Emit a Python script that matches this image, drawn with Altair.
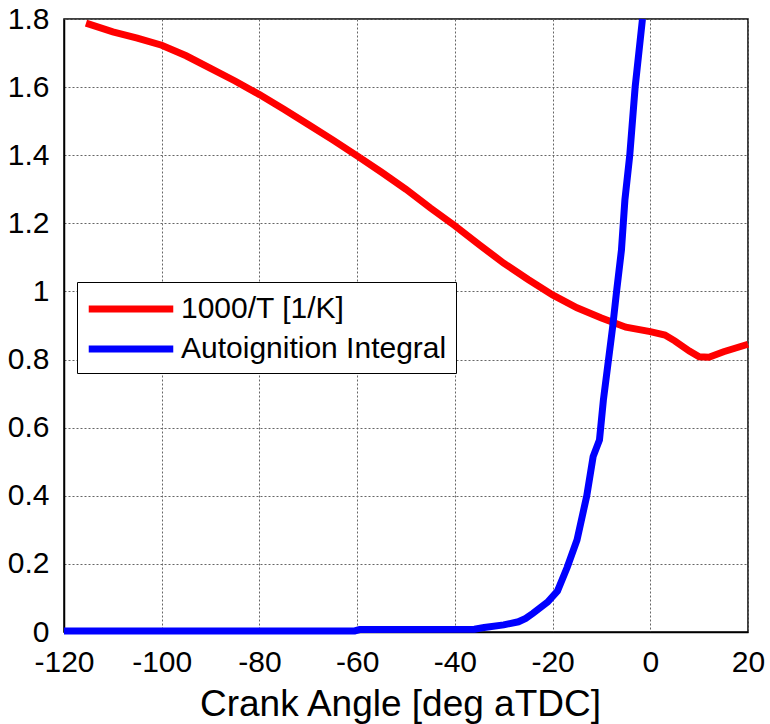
import altair as alt
import pandas as pd

# ---- data ----
red_x = [-115.5, -110, -105, -100, -95, -90, -85, -80, -75, -70, -65, -60, -55, -50,
         -45, -40, -35, -30, -25, -20, -15, -10, -5, 0, 3, 5, 8, 10, 12, 15, 20]
red_y = [1.788, 1.762, 1.744, 1.723, 1.692, 1.655, 1.618, 1.578, 1.535, 1.49, 1.445,
         1.398, 1.35, 1.30, 1.245, 1.193, 1.137, 1.083, 1.035, 0.99, 0.952, 0.922,
         0.895, 0.882, 0.872, 0.855, 0.825, 0.808, 0.807, 0.823, 0.845]

blue_x = [-120, -60.5, -59.5, -36, -34, -30, -27, -25.5, -24, -21, -19, -17, -15, -13,
          -11.7, -10.4, -9.6, -7.7, -6.9, -5.9, -5.2, -4.2, -3.1, -1.6]
blue_y = [0.003, 0.003, 0.007, 0.008, 0.013, 0.021, 0.03, 0.04, 0.055, 0.088, 0.12,
          0.19, 0.27, 0.40, 0.515, 0.564, 0.681, 0.896, 1.0, 1.122, 1.268, 1.4, 1.6, 1.8]

series_names = ["1000/T [1/K]", "Autoignition Integral"]
series_colors = ["#ff0000", "#0000ff"]

x_ticks = [-120, -100, -80, -60, -40, -20, 0, 20]
y_ticks = [0, 0.2, 0.4, 0.6, 0.8, 1, 1.2, 1.4, 1.6, 1.8]

df = pd.concat([
    pd.DataFrame({"x": red_x, "y": red_y, "s": series_names[0], "o": range(len(red_x))}),
    pd.DataFrame({"x": blue_x, "y": blue_y, "s": series_names[1], "o": range(len(blue_x))}),
])

FONT = "Liberation Sans"

chart = alt.Chart(df).mark_line(strokeWidth=7).encode(
    x=alt.X("x:Q",
            scale=alt.Scale(domain=[-120, 20], nice=False, zero=False),
            axis=alt.Axis(values=x_ticks, title="Crank Angle [deg aTDC]",
                          labelExpr="'' + datum.value", titleX=336)),
    y=alt.Y("y:Q",
            scale=alt.Scale(domain=[0, 1.8], nice=False, zero=False),
            axis=alt.Axis(values=y_ticks, title=None, format="~g")),
    color=alt.Color("s:N",
                    scale=alt.Scale(domain=series_names, range=series_colors),
                    legend=alt.Legend(title=None, orient="none", legendX=13, legendY=263,
                                      symbolType="M-3,0H3", symbolSize=794,
                                      symbolStrokeWidth=7, symbolOffset=27,
                                      labelOffset=32, labelFontSize=30, labelFont=FONT,
                                      labelColor="black", labelLimit=1000,
                                      rowPadding=7, padding=9,
                                      strokeColor="black", fillColor="white",
                                      cornerRadius=0)),
    detail="s:N",
    order="o:Q",
).properties(
    width=684, height=613,
    autosize=alt.AutoSizeParams(type="none"),
    padding={"left": 64, "top": 19, "right": 22, "bottom": 92},
    background="white",
).configure_view(
    stroke="black", strokeWidth=1.5
).configure_axis(
    labelFont=FONT, labelFontSize=30, labelColor="black",
    titleFont=FONT, titleFontSize=37, titleColor="black", titleFontWeight="normal",
    grid=True, gridColor="#666666", gridDash=[2, 2], gridWidth=1, gridOpacity=1,
    domain=True, domainColor="black", domainWidth=1.5,
    ticks=False, labelPadding=15, titlePadding=9,
    labelFlush=False, labelOverlap=False,
)

chart.save("out.html", embed_options={"renderer": "svg", "actions": False})
